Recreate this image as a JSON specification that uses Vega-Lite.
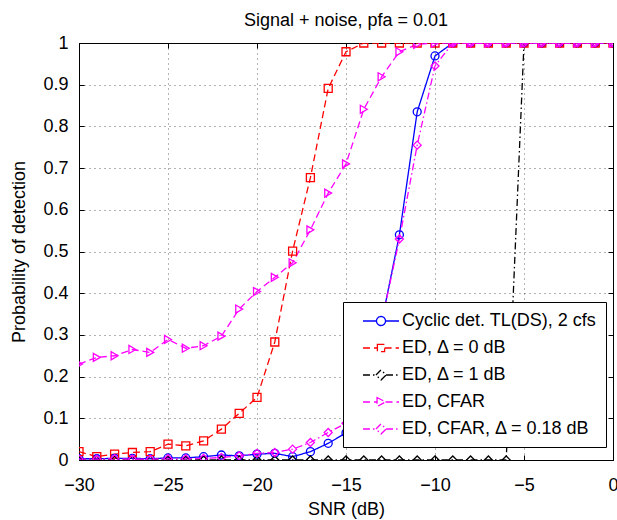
{
  "$schema": "https://vega.github.io/schema/vega-lite/v6.json",
  "width": 534,
  "height": 417,
  "autosize": "none",
  "padding": {"left": 79, "top": 43, "right": 4, "bottom": 60},
  "background": "white",
  "title": {"text": "Signal + noise, pfa = 0.01", "fontSize": 18, "font": "Liberation Sans", "fontWeight": "normal", "color": "black", "offset": 4},
  "config": {
    "font": "Liberation Sans",
    "view": {"stroke": "black", "strokeWidth": 1},
    "axis": {
      "domainColor": "black", "domainWidth": 1, "tickColor": "black", "tickWidth": 1, "tickSize": -5,
      "labelColor": "black", "labelFontSize": 18, "labelFont": "Liberation Sans",
      "titleColor": "black", "titleFontSize": 18, "titleFont": "Liberation Sans", "titleFontWeight": "normal",
      "gridColor": "black", "gridDash": [1, 4], "gridOpacity": 0.6, "gridWidth": 1,
      "labelFlush": false, "labelOverlap": false
    },
    "legend": {
      "orient": "none", "legendX": 264, "legendY": 259,
      "fillColor": "white", "strokeColor": "black", "strokeWidth": 1, "cornerRadius": 0,
      "padding": 9, "labelFontSize": 18, "labelFont": "Liberation Sans", "labelColor": "black",
      "labelLimit": 400, "symbolSize": 324, "symbolStrokeWidth": 1.3, "symbolOffset": 19,
      "symbolOpacity": 1, "labelOffset": 11, "rowPadding": 8, "title": null
    }
  },
  "data": {"values": [
    {"series": "Cyclic det. TL(DS), 2 cfs", "snr": -30, "pd": 0.003},
    {"series": "Cyclic det. TL(DS), 2 cfs", "snr": -29, "pd": 0.003},
    {"series": "Cyclic det. TL(DS), 2 cfs", "snr": -28, "pd": 0.004},
    {"series": "Cyclic det. TL(DS), 2 cfs", "snr": -27, "pd": 0.004},
    {"series": "Cyclic det. TL(DS), 2 cfs", "snr": -26, "pd": 0.003},
    {"series": "Cyclic det. TL(DS), 2 cfs", "snr": -25, "pd": 0.005},
    {"series": "Cyclic det. TL(DS), 2 cfs", "snr": -24, "pd": 0.005},
    {"series": "Cyclic det. TL(DS), 2 cfs", "snr": -23, "pd": 0.008},
    {"series": "Cyclic det. TL(DS), 2 cfs", "snr": -22, "pd": 0.012},
    {"series": "Cyclic det. TL(DS), 2 cfs", "snr": -21, "pd": 0.01},
    {"series": "Cyclic det. TL(DS), 2 cfs", "snr": -20, "pd": 0.014},
    {"series": "Cyclic det. TL(DS), 2 cfs", "snr": -19, "pd": 0.016},
    {"series": "Cyclic det. TL(DS), 2 cfs", "snr": -18, "pd": 0.008},
    {"series": "Cyclic det. TL(DS), 2 cfs", "snr": -17, "pd": 0.02},
    {"series": "Cyclic det. TL(DS), 2 cfs", "snr": -16, "pd": 0.04},
    {"series": "Cyclic det. TL(DS), 2 cfs", "snr": -15, "pd": 0.065},
    {"series": "Cyclic det. TL(DS), 2 cfs", "snr": -14, "pd": 0.14},
    {"series": "Cyclic det. TL(DS), 2 cfs", "snr": -13, "pd": 0.33},
    {"series": "Cyclic det. TL(DS), 2 cfs", "snr": -12, "pd": 0.54},
    {"series": "Cyclic det. TL(DS), 2 cfs", "snr": -11, "pd": 0.835},
    {"series": "Cyclic det. TL(DS), 2 cfs", "snr": -10, "pd": 0.969},
    {"series": "Cyclic det. TL(DS), 2 cfs", "snr": -9, "pd": 1},
    {"series": "Cyclic det. TL(DS), 2 cfs", "snr": -8, "pd": 1},
    {"series": "Cyclic det. TL(DS), 2 cfs", "snr": -7, "pd": 1},
    {"series": "Cyclic det. TL(DS), 2 cfs", "snr": -6, "pd": 1},
    {"series": "Cyclic det. TL(DS), 2 cfs", "snr": -5, "pd": 1},
    {"series": "Cyclic det. TL(DS), 2 cfs", "snr": -4, "pd": 1},
    {"series": "Cyclic det. TL(DS), 2 cfs", "snr": -3, "pd": 1},
    {"series": "Cyclic det. TL(DS), 2 cfs", "snr": -2, "pd": 1},
    {"series": "Cyclic det. TL(DS), 2 cfs", "snr": -1, "pd": 1},
    {"series": "Cyclic det. TL(DS), 2 cfs", "snr": 0, "pd": 1},

    {"series": "ED, Δ = 0 dB", "snr": -30, "pd": 0.02},
    {"series": "ED, Δ = 0 dB", "snr": -29, "pd": 0.008},
    {"series": "ED, Δ = 0 dB", "snr": -28, "pd": 0.014},
    {"series": "ED, Δ = 0 dB", "snr": -27, "pd": 0.018},
    {"series": "ED, Δ = 0 dB", "snr": -26, "pd": 0.02},
    {"series": "ED, Δ = 0 dB", "snr": -25, "pd": 0.038},
    {"series": "ED, Δ = 0 dB", "snr": -24, "pd": 0.034},
    {"series": "ED, Δ = 0 dB", "snr": -23, "pd": 0.046},
    {"series": "ED, Δ = 0 dB", "snr": -22, "pd": 0.074},
    {"series": "ED, Δ = 0 dB", "snr": -21, "pd": 0.112},
    {"series": "ED, Δ = 0 dB", "snr": -20, "pd": 0.15},
    {"series": "ED, Δ = 0 dB", "snr": -19, "pd": 0.283},
    {"series": "ED, Δ = 0 dB", "snr": -18, "pd": 0.501},
    {"series": "ED, Δ = 0 dB", "snr": -17, "pd": 0.677},
    {"series": "ED, Δ = 0 dB", "snr": -16, "pd": 0.891},
    {"series": "ED, Δ = 0 dB", "snr": -15, "pd": 0.979},
    {"series": "ED, Δ = 0 dB", "snr": -14, "pd": 1},
    {"series": "ED, Δ = 0 dB", "snr": -13, "pd": 1},
    {"series": "ED, Δ = 0 dB", "snr": -12, "pd": 1},
    {"series": "ED, Δ = 0 dB", "snr": -11, "pd": 1},
    {"series": "ED, Δ = 0 dB", "snr": -10, "pd": 1},
    {"series": "ED, Δ = 0 dB", "snr": -9, "pd": 1},
    {"series": "ED, Δ = 0 dB", "snr": -8, "pd": 1},
    {"series": "ED, Δ = 0 dB", "snr": -7, "pd": 1},
    {"series": "ED, Δ = 0 dB", "snr": -6, "pd": 1},
    {"series": "ED, Δ = 0 dB", "snr": -5, "pd": 1},
    {"series": "ED, Δ = 0 dB", "snr": -4, "pd": 1},
    {"series": "ED, Δ = 0 dB", "snr": -3, "pd": 1},
    {"series": "ED, Δ = 0 dB", "snr": -2, "pd": 1},
    {"series": "ED, Δ = 0 dB", "snr": -1, "pd": 1},
    {"series": "ED, Δ = 0 dB", "snr": 0, "pd": 1},

    {"series": "ED, Δ = 1 dB", "snr": -30, "pd": 0},
    {"series": "ED, Δ = 1 dB", "snr": -29, "pd": 0},
    {"series": "ED, Δ = 1 dB", "snr": -28, "pd": 0},
    {"series": "ED, Δ = 1 dB", "snr": -27, "pd": 0},
    {"series": "ED, Δ = 1 dB", "snr": -26, "pd": 0},
    {"series": "ED, Δ = 1 dB", "snr": -25, "pd": 0},
    {"series": "ED, Δ = 1 dB", "snr": -24, "pd": 0},
    {"series": "ED, Δ = 1 dB", "snr": -23, "pd": 0},
    {"series": "ED, Δ = 1 dB", "snr": -22, "pd": 0},
    {"series": "ED, Δ = 1 dB", "snr": -21, "pd": 0},
    {"series": "ED, Δ = 1 dB", "snr": -20, "pd": 0},
    {"series": "ED, Δ = 1 dB", "snr": -19, "pd": 0},
    {"series": "ED, Δ = 1 dB", "snr": -18, "pd": 0},
    {"series": "ED, Δ = 1 dB", "snr": -17, "pd": 0},
    {"series": "ED, Δ = 1 dB", "snr": -16, "pd": 0},
    {"series": "ED, Δ = 1 dB", "snr": -15, "pd": 0},
    {"series": "ED, Δ = 1 dB", "snr": -14, "pd": 0},
    {"series": "ED, Δ = 1 dB", "snr": -13, "pd": 0},
    {"series": "ED, Δ = 1 dB", "snr": -12, "pd": 0},
    {"series": "ED, Δ = 1 dB", "snr": -11, "pd": 0},
    {"series": "ED, Δ = 1 dB", "snr": -10, "pd": 0},
    {"series": "ED, Δ = 1 dB", "snr": -9, "pd": 0},
    {"series": "ED, Δ = 1 dB", "snr": -8, "pd": 0},
    {"series": "ED, Δ = 1 dB", "snr": -7, "pd": 0},
    {"series": "ED, Δ = 1 dB", "snr": -6, "pd": 0},
    {"series": "ED, Δ = 1 dB", "snr": -5, "pd": 1},
    {"series": "ED, Δ = 1 dB", "snr": -4, "pd": 1},
    {"series": "ED, Δ = 1 dB", "snr": -3, "pd": 1},
    {"series": "ED, Δ = 1 dB", "snr": -2, "pd": 1},
    {"series": "ED, Δ = 1 dB", "snr": -1, "pd": 1},
    {"series": "ED, Δ = 1 dB", "snr": 0, "pd": 1},

    {"series": "ED, CFAR", "snr": -30, "pd": 0.23},
    {"series": "ED, CFAR", "snr": -29, "pd": 0.246},
    {"series": "ED, CFAR", "snr": -28, "pd": 0.25},
    {"series": "ED, CFAR", "snr": -27, "pd": 0.265},
    {"series": "ED, CFAR", "snr": -26, "pd": 0.258},
    {"series": "ED, CFAR", "snr": -25, "pd": 0.289},
    {"series": "ED, CFAR", "snr": -24, "pd": 0.268},
    {"series": "ED, CFAR", "snr": -23, "pd": 0.274},
    {"series": "ED, CFAR", "snr": -22, "pd": 0.297},
    {"series": "ED, CFAR", "snr": -21, "pd": 0.362},
    {"series": "ED, CFAR", "snr": -20, "pd": 0.404},
    {"series": "ED, CFAR", "snr": -19, "pd": 0.438},
    {"series": "ED, CFAR", "snr": -18, "pd": 0.473},
    {"series": "ED, CFAR", "snr": -17, "pd": 0.552},
    {"series": "ED, CFAR", "snr": -16, "pd": 0.64},
    {"series": "ED, CFAR", "snr": -15, "pd": 0.71},
    {"series": "ED, CFAR", "snr": -14, "pd": 0.841},
    {"series": "ED, CFAR", "snr": -13, "pd": 0.919},
    {"series": "ED, CFAR", "snr": -12, "pd": 0.979},
    {"series": "ED, CFAR", "snr": -11, "pd": 0.997},
    {"series": "ED, CFAR", "snr": -10, "pd": 1},
    {"series": "ED, CFAR", "snr": -9, "pd": 1},
    {"series": "ED, CFAR", "snr": -8, "pd": 1},
    {"series": "ED, CFAR", "snr": -7, "pd": 1},
    {"series": "ED, CFAR", "snr": -6, "pd": 1},
    {"series": "ED, CFAR", "snr": -5, "pd": 1},
    {"series": "ED, CFAR", "snr": -4, "pd": 1},
    {"series": "ED, CFAR", "snr": -3, "pd": 1},
    {"series": "ED, CFAR", "snr": -2, "pd": 1},
    {"series": "ED, CFAR", "snr": -1, "pd": 1},
    {"series": "ED, CFAR", "snr": 0, "pd": 1},

    {"series": "ED, CFAR, Δ = 0.18 dB", "snr": -30, "pd": 0.002},
    {"series": "ED, CFAR, Δ = 0.18 dB", "snr": -29, "pd": 0.002},
    {"series": "ED, CFAR, Δ = 0.18 dB", "snr": -28, "pd": 0.003},
    {"series": "ED, CFAR, Δ = 0.18 dB", "snr": -27, "pd": 0.002},
    {"series": "ED, CFAR, Δ = 0.18 dB", "snr": -26, "pd": 0.002},
    {"series": "ED, CFAR, Δ = 0.18 dB", "snr": -25, "pd": 0.003},
    {"series": "ED, CFAR, Δ = 0.18 dB", "snr": -24, "pd": 0.003},
    {"series": "ED, CFAR, Δ = 0.18 dB", "snr": -23, "pd": 0.004},
    {"series": "ED, CFAR, Δ = 0.18 dB", "snr": -22, "pd": 0.006},
    {"series": "ED, CFAR, Δ = 0.18 dB", "snr": -21, "pd": 0.01},
    {"series": "ED, CFAR, Δ = 0.18 dB", "snr": -20, "pd": 0.016},
    {"series": "ED, CFAR, Δ = 0.18 dB", "snr": -19, "pd": 0.018},
    {"series": "ED, CFAR, Δ = 0.18 dB", "snr": -18, "pd": 0.026},
    {"series": "ED, CFAR, Δ = 0.18 dB", "snr": -17, "pd": 0.042},
    {"series": "ED, CFAR, Δ = 0.18 dB", "snr": -16, "pd": 0.066},
    {"series": "ED, CFAR, Δ = 0.18 dB", "snr": -15, "pd": 0.088},
    {"series": "ED, CFAR, Δ = 0.18 dB", "snr": -14, "pd": 0.17},
    {"series": "ED, CFAR, Δ = 0.18 dB", "snr": -13, "pd": 0.33},
    {"series": "ED, CFAR, Δ = 0.18 dB", "snr": -12, "pd": 0.53},
    {"series": "ED, CFAR, Δ = 0.18 dB", "snr": -11, "pd": 0.755},
    {"series": "ED, CFAR, Δ = 0.18 dB", "snr": -10, "pd": 0.945},
    {"series": "ED, CFAR, Δ = 0.18 dB", "snr": -9, "pd": 1},
    {"series": "ED, CFAR, Δ = 0.18 dB", "snr": -8, "pd": 1},
    {"series": "ED, CFAR, Δ = 0.18 dB", "snr": -7, "pd": 1},
    {"series": "ED, CFAR, Δ = 0.18 dB", "snr": -6, "pd": 1},
    {"series": "ED, CFAR, Δ = 0.18 dB", "snr": -5, "pd": 1},
    {"series": "ED, CFAR, Δ = 0.18 dB", "snr": -4, "pd": 1},
    {"series": "ED, CFAR, Δ = 0.18 dB", "snr": -3, "pd": 1},
    {"series": "ED, CFAR, Δ = 0.18 dB", "snr": -2, "pd": 1},
    {"series": "ED, CFAR, Δ = 0.18 dB", "snr": -1, "pd": 1},
    {"series": "ED, CFAR, Δ = 0.18 dB", "snr": 0, "pd": 1}
  ]},
  "resolve": {"axis": {"x": "independent", "y": "independent"}},
  "layer": [
    {
      "mark": {"type": "line", "strokeWidth": 1.3, "clip": true},
      "encoding": {
        "x": {"field": "snr", "type": "quantitative", "scale": {"domain": [-30, 0], "nice": false},
          "axis": {"values": [-30, -25, -20, -15, -10, -5, 0], "title": "SNR (dB)", "labelPadding": 21, "titlePadding": 6}},
        "y": {"field": "pd", "type": "quantitative", "scale": {"domain": [0, 1], "nice": false},
          "axis": {"values": [0, 0.1, 0.2, 0.3, 0.4, 0.5, 0.6, 0.7, 0.8, 0.9, 1], "format": "~g", "title": "Probability of detection", "labelPadding": 16, "titlePadding": 14}},
        "color": {"field": "series", "type": "nominal",
          "scale": {"domain": ["Cyclic det. TL(DS), 2 cfs", "ED, Δ = 0 dB", "ED, Δ = 1 dB", "ED, CFAR", "ED, CFAR, Δ = 0.18 dB"],
                    "range": ["#0000ff", "#ff0000", "#000000", "#ff00ff", "#ff00ff"]},
          "legend": {
            "encode": {"symbols": {"update": {
              "shape": {"signal": "datum.value === 'ED, Δ = 0 dB' ? 'M-2,0H-0.4M0.4,0H2M-0.4,-0.4H0.4V0.4H-0.4Z' : datum.value === 'ED, CFAR' ? 'M-2,0H-0.44M0.5,0H2M-0.44,-0.5L0.5,0L-0.44,0.5Z' : (datum.value === 'ED, Δ = 1 dB' || datum.value === 'ED, CFAR, Δ = 0.18 dB') ? 'M-2,0H-0.56M0.56,0H2M-0.56,0L0,-0.56L0.56,0L0,0.56Z' : 'M-2,0H-0.5M0.5,0H2M-0.5,0A0.5,0.5 0 1,1 0.5,0A0.5,0.5 0 1,1 -0.5,0Z'"},
              "fill": {"value": "transparent"},
              "strokeWidth": {"value": 1.3}
            }}}
          }},
        "strokeDash": {"field": "series", "type": "nominal",
          "scale": {"domain": ["Cyclic det. TL(DS), 2 cfs", "ED, Δ = 0 dB", "ED, Δ = 1 dB", "ED, CFAR", "ED, CFAR, Δ = 0.18 dB"],
                    "range": [[1, 0], [7, 4], [7, 3, 1.5, 3], [7, 4], [7, 3, 1.5, 3]]}}
      }
    },
    {
      "mark": {"type": "point", "filled": false, "size": 64, "strokeWidth": 1.3, "opacity": 1, "clip": true},
      "encoding": {
        "x": {"field": "snr", "type": "quantitative", "axis": null},
        "y": {"field": "pd", "type": "quantitative", "axis": null},
        "color": {"field": "series", "type": "nominal"},
        "shape": {"field": "series", "type": "nominal",
          "scale": {"domain": ["ED, CFAR, Δ = 0.18 dB", "ED, CFAR", "ED, Δ = 1 dB", "ED, Δ = 0 dB", "Cyclic det. TL(DS), 2 cfs"],
                    "range": ["diamond", "triangle-right", "diamond", "square", "circle"]},
          "legend": null}
      }
    },
    {
      "mark": {"type": "point", "opacity": 0},
      "encoding": {
        "x": {"field": "snr", "type": "quantitative",
          "axis": {"orient": "top", "values": [-30, -25, -20, -15, -10, -5, 0], "labels": false, "grid": false, "domain": false, "title": null}},
        "y": {"field": "pd", "type": "quantitative",
          "axis": {"orient": "right", "values": [0, 0.1, 0.2, 0.3, 0.4, 0.5, 0.6, 0.7, 0.8, 0.9, 1], "labels": false, "grid": false, "domain": false, "title": null}}
      }
    }
  ]
}
